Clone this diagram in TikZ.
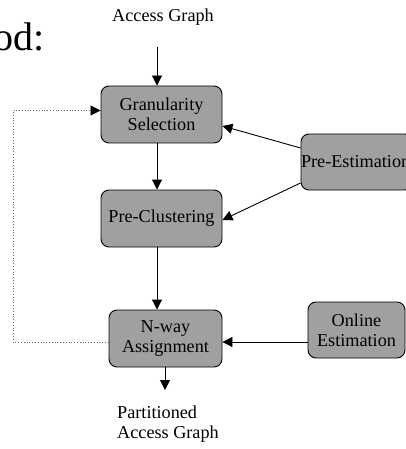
\documentclass[tikz,border=0pt]{standalone}
\usepackage{fontspec}
\setmainfont{Liberation Serif}
\usetikzlibrary{arrows.meta}
\definecolor{boxgray}{RGB}{160,160,160}
\tikzset{
  proc/.style={draw=black, line width=0.9pt, fill=boxgray, rounded corners=8pt,
    inner sep=0pt, align=center, font=\fontsize{18.2}{20}\selectfont},
  lbl/.style={inner sep=0pt, font=\fontsize{18.2}{20}\selectfont},
  flow/.style={line width=0.9pt, -{Triangle[length=10pt,width=10pt]}},
  feedback/.style={line width=0.8pt, dotted, draw=gray!80!black, -{Triangle[length=10pt,width=10pt,fill=black,color=black]}}
}
\begin{document}
\begin{tikzpicture}[x=1pt,y=-1pt]
\useasboundingbox (0,0) rectangle (406,449);
% partial title
\node[anchor=base east, inner sep=0pt, font=\fontsize{40}{44}\selectfont] (title) at (45,51) {od:};
% boxes
\node[proc, minimum width=121pt, minimum height=57pt] (gran) at (161.5,114.5) {Granularity\\Selection};
\node[proc, minimum width=121pt, minimum height=57pt] (prec) at (161.5,218.5) {Pre-Clustering};
\node[proc, minimum width=113pt, minimum height=57pt] (nway) at (165.5,338.5) {N-way\\Assignment};
\node[proc, minimum width=112pt, minimum height=56pt, text width=112pt, align=left] (pree) at (357,162) {Pre-Estimation};
\node[proc, minimum width=97pt, minimum height=56pt] (onl) at (356.5,330) {Online\\Estimation};
% labels
\node[lbl, anchor=base] (ag) at (163,22) {Access Graph};
\node[lbl, anchor=north west, align=left] (pag) at (117,406) {Partitioned\\Access Graph};
% coordinates
\coordinate (agb) at (157,47);
\coordinate (out) at (165,390);
% connectors
\draw[flow] (agb) -- (agb |- gran.north);
\draw[flow] (agb |- gran.south) -- (agb |- prec.north);
\draw[flow] (agb |- prec.south) -- (agb |- nway.north);
\draw[flow] (out |- nway.south) -- (out);
\draw[flow] (pree.west |- 0,148) -- (gran.east |- 0,126);
\draw[flow] (pree.west |- 0,183) -- (prec.east |- 0,220);
\draw[flow] (onl.west |- 0,342) -- (nway.east |- 0,342);
\coordinate (fb1) at (13,342);
\coordinate (fb2) at (13,110.5);
\draw[feedback] (nway.west |- fb1) -- (fb1) -- (fb2) -- (gran.west |- fb2);
\end{tikzpicture}
\end{document}
